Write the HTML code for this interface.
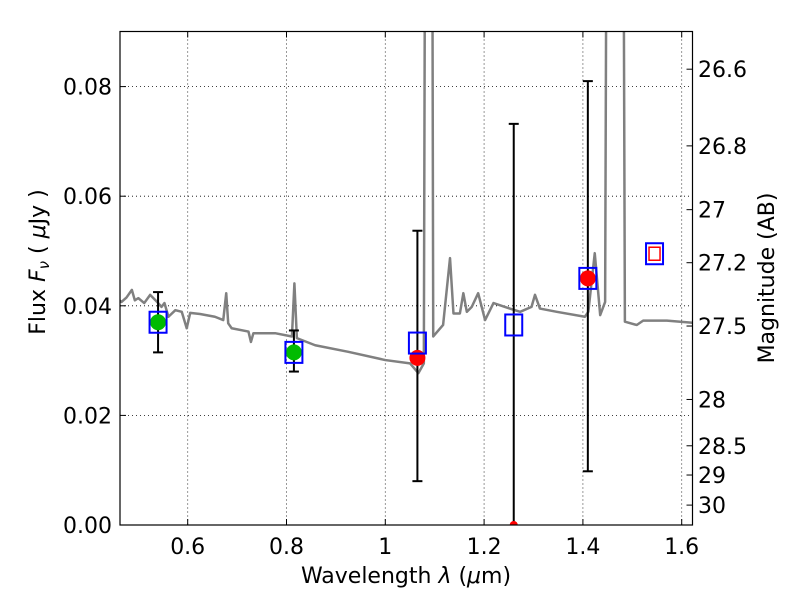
<!DOCTYPE html>
<html><head><meta charset="utf-8"><style>
html,body{margin:0;padding:0;background:#fff;}
svg text{font-family:"DejaVu Sans","Liberation Sans",sans-serif;}
</style></head><body>
<svg id="chart" width="800" height="600" xmlns="http://www.w3.org/2000/svg">
<defs><clipPath id="pc"><rect x="120" y="31.5" width="572.5" height="493.5"/></clipPath></defs>
<g id="grid"></g>
<g id="spec" clip-path="url(#pc)"></g>
<g id="marks"></g>
<rect x="120" y="31.5" width="572.5" height="493.5" fill="none" stroke="#000" stroke-width="1.2"/>
<g id="axes"></g>
<text x="406" y="583" font-size="22" text-anchor="middle">Wavelength  <tspan font-style="italic">λ</tspan> (<tspan font-style="italic">μ</tspan>m)</text>
<text transform="translate(45,262) rotate(-90)" font-size="22" text-anchor="middle">Flux  <tspan font-style="italic">F</tspan><tspan font-style="italic" font-size="15" dy="4">ν</tspan><tspan dy="-4">  ( </tspan><tspan font-style="italic">μ</tspan>Jy )</text>
<text transform="translate(774,278) rotate(-90)" font-size="22" text-anchor="middle">Magnitude (AB)</text>
</svg>
<script>
const specLam=[0.462,0.466,0.476,0.487,0.493,0.500,0.512,0.524,0.535,0.547,0.553,0.561,0.575,0.588,0.598,0.605,0.625,0.655,0.672,0.678,0.682,0.689,0.723,0.728,0.733,0.777,0.811,0.816,0.821,0.858,0.925,1.0,1.05,1.067,1.078,1.083,1.093,1.097,1.117,1.131,1.138,1.151,1.158,1.165,1.175,1.188,1.202,1.219,1.252,1.273,1.296,1.303,1.313,1.347,1.404,1.411,1.424,1.435,1.445,1.451,1.479,1.485,1.509,1.522,1.57,1.622];
const specFlux=[0.041,0.0407,0.0415,0.0429,0.041,0.0414,0.0405,0.042,0.041,0.0398,0.0405,0.038,0.0392,0.0389,0.0359,0.0387,0.0385,0.038,0.0374,0.0423,0.0368,0.0359,0.0353,0.0334,0.035,0.035,0.0344,0.0441,0.0341,0.0328,0.0316,0.0301,0.0295,0.0277,0.0295,0.2,0.2,0.0344,0.0365,0.0487,0.0386,0.0386,0.0423,0.0389,0.0398,0.0423,0.0374,0.0405,0.0395,0.0389,0.0398,0.042,0.0395,0.0389,0.038,0.0389,0.0496,0.0383,0.0407,0.2,0.2,0.0371,0.0365,0.0373,0.0373,0.0369];
const photLam=[0.54,0.815,1.065,1.26,1.41,1.545];
const modelFlux=[0.037,0.0315,0.0332,0.0365,0.045,0.0495];
const obsFlux=[0.037,0.0315,0.0305,0.0,0.045,null];
const errLow=[0.0315,0.028,0.008,0.0,0.0098,null];
const errHigh=[0.0425,0.0355,0.0537,0.0732,0.081,null];
const obsColor=['#00bb00','#00bb00','#ff0000','#ff0000','#ff0000',null];
const xTicks=[0.6,0.8,1.0,1.2,1.4,1.6];
const xTickLabels=['0.6','0.8','1','1.2','1.4','1.6'];
const yTicks=[0,0.02,0.04,0.06,0.08];
const yTickLabels=['0.00','0.02','0.04','0.06','0.08'];
const magTicks=[26.6,26.8,27,27.2,27.5,28,28.5,29,30];
const magLabels=['26.6','26.8','27','27.2','27.5','28','28.5','29','30'];

const X=l=>187.7+(l-0.6)*494;
const Y=f=>525-f*5480;
const NS='http://www.w3.org/2000/svg';
function mk(tag,at,parent){const e=document.createElementNS(NS,tag);for(const k in at)e.setAttribute(k,at[k]);parent.appendChild(e);return e;}
const grid=document.getElementById('grid'),axes=document.getElementById('axes'),spec=document.getElementById('spec'),marks=document.getElementById('marks');

xTicks.forEach((t,i)=>{
  const g=mk('line',{x1:X(t),x2:X(t),y1:31.5,y2:525,stroke:'#000','stroke-width':0.8,'stroke-dasharray':'1,3'},grid);
  
  
  mk('line',{x1:X(t),x2:X(t),y1:525,y2:519,stroke:'#000'},axes);
  mk('line',{x1:X(t),x2:X(t),y1:31.5,y2:37.5,stroke:'#000'},axes);
  const tx=mk('text',{x:X(t),y:554,'font-size':22,'text-anchor':'middle'},axes);
  tx.textContent=xTickLabels[i];
  
  
});
yTicks.forEach((t,i)=>{
  if(t>0){const g=mk('line',{x1:120,x2:692.5,y1:Y(t),y2:Y(t),stroke:'#000','stroke-width':0.8,'stroke-dasharray':'1,3'},grid);
  
  }
  mk('line',{x1:120,x2:126,y1:Y(t),y2:Y(t),stroke:'#000'},axes);
  const tx=mk('text',{x:112,y:Y(t)+8,'font-size':22,'text-anchor':'end'},axes);
  tx.textContent=yTickLabels[i];
  
  
});
magTicks.forEach((m,i)=>{
  const y=Y(Math.pow(10,(23.9-m)/2.5));
  mk('line',{x1:686.5,x2:692.5,y1:y,y2:y,stroke:'#000'},axes);
  const tx=mk('text',{x:698,y:y+8,'font-size':22},axes);
  tx.textContent=magLabels[i];
  
  
});
const sp=mk('polyline',{points:specLam.map((l,i)=>X(l)+','+Y(specFlux[i])).join(' '),fill:'none',stroke:'#808080','stroke-width':2.5,'stroke-linejoin':'round'},spec);



photLam.forEach((l,i)=>{
  const x=X(l);
  if(errLow[i]!==null){
    const e=mk('g',{stroke:'#000','stroke-width':2},marks);
    
    
    mk('line',{x1:x,x2:x,y1:Y(errLow[i]),y2:Y(errHigh[i])},e);
    mk('line',{x1:x-5,x2:x+5,y1:Y(errHigh[i]),y2:Y(errHigh[i])},e);
    if(errLow[i]>0)mk('line',{x1:x-5,x2:x+5,y1:Y(errLow[i]),y2:Y(errLow[i])},e);
  }
});
photLam.forEach((l,i)=>{
  const x=X(l);
  if(obsFlux[i]!==null){
    const c=mk('circle',{cx:x,cy:Y(obsFlux[i]),r:obsFlux[i]>0?8:4,fill:obsColor[i],'clip-path':'url(#pc)'},marks);
    
    
  }
  const s=mk('rect',{x:x-8.5,y:Y(modelFlux[i])-10.5,width:17,height:21,fill:'none',stroke:'#0000ff','stroke-width':2},marks);
  
  
  if(obsFlux[i]===null){
    const r=mk('rect',{x:x-5.5,y:Y(modelFlux[i])-6.5,width:11,height:13,fill:'none',stroke:'#ff0000','stroke-width':1.5},marks);
    
    
  }
});
</script>
</body></html>
